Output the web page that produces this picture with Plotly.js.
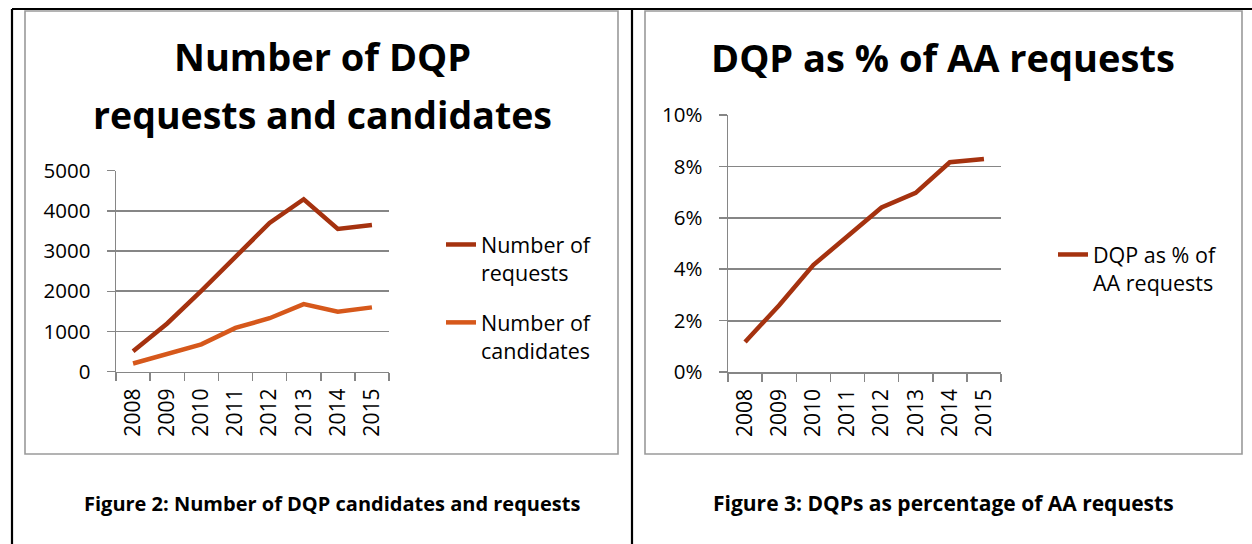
<!DOCTYPE html>
<html>
<head>
<meta charset="utf-8">
<script src="https://cdn.plot.ly/plotly-3.0.1.min.js"></script>
<style>
  html, body { margin: 0; padding: 0; background: #ffffff; }
  #chart { width: 1252px; height: 544px; }
</style>
</head>
<body>
<div id="chart"></div>
<script>
// ---- data ----
const years = ['2008', '2009', '2010', '2011', '2012', '2013', '2014', '2015'];
const requests = [510, 1200, 2010, 2860, 3700, 4290, 3550, 3650];
const candidates = [205, 440, 680, 1090, 1330, 1680, 1490, 1600];
const dqpShare = [0.0117, 0.026, 0.0416, 0.0526, 0.064, 0.0697, 0.0816, 0.0829];

const seriesNames = ['Number of<br>requests', 'Number of<br>candidates', 'DQP as % of<br>AA requests'];
const titleLeft = ['Number of DQP', 'requests and candidates'];
const titleRight = 'DQP as % of AA requests';
const captionLeft = 'Figure 2: Number of DQP candidates and requests';
const captionRight = 'Figure 3: DQPs as percentage of AA requests';

// ---- styling ----
const W = 1252, H = 544;
const FONT = 'Open Sans, Noto Sans, sans-serif';
const GRID = '#868686';
const C_REQ = '#A5320F';
const C_CAND = '#D6581B';
const px = x => x / W;
const py = y => 1 - y / H;

const traces = [
  { x: years, y: requests, name: seriesNames[0], type: 'scatter', mode: 'lines',
    line: { color: C_REQ, width: 4.5 }, xaxis: 'x', yaxis: 'y', legend: 'legend',
    legendgroup: 'req', hoverinfo: 'skip' },
  { x: years, y: candidates, name: seriesNames[1], type: 'scatter', mode: 'lines',
    line: { color: C_CAND, width: 4.5 }, xaxis: 'x', yaxis: 'y', legend: 'legend',
    legendgroup: 'cand', hoverinfo: 'skip' },
  { x: years, y: dqpShare, name: seriesNames[2], type: 'scatter', mode: 'lines',
    line: { color: C_REQ, width: 4.5 }, xaxis: 'x2', yaxis: 'y2', legend: 'legend2', hoverinfo: 'skip' }
];

const xCommon = {
  type: 'category', tickson: 'boundaries', ticks: 'outside', ticklen: 8,
  tickcolor: GRID, tickwidth: 1.5, showline: true, linecolor: GRID, linewidth: 1.5,
  tickangle: -90, tickfont: { family: FONT, size: 21, color: '#000' },
  showgrid: false, zeroline: false, fixedrange: true, ticklabelstandoff: 7,
  range: [-0.5, years.length - 0.5]
};
const yCommon = {
  ticks: 'outside', ticklen: 8, tickcolor: GRID, tickwidth: 1.5,
  showline: true, linecolor: GRID, linewidth: 1.5, showgrid: true, gridcolor: GRID, gridwidth: 1.8,
  zeroline: false, tickfont: { family: FONT, size: 20.5, color: '#000' }, fixedrange: true,
  ticklabelstandoff: 12
};

const blackLine = (x0, y0, x1, y1) => ({ type: 'line', xref: 'paper', yref: 'paper',
  x0: px(x0), y0: py(y0), x1: px(x1), y1: py(y1), line: { color: '#000', width: 2.2 } });
const frame = (x0, y0, x1, y1) => ({ type: 'rect', xref: 'paper', yref: 'paper',
  x0: px(x0), y0: py(y0), x1: px(x1), y1: py(y1), line: { color: '#9a9a9a', width: 1.6 }, layer: 'below' });

const ann = (text, x, y, size, bold) => ({ text: bold ? '<b>' + text + '</b>' : text,
  xref: 'paper', yref: 'paper', x: px(x), y: py(y), xanchor: 'center', yanchor: 'middle',
  showarrow: false, font: { family: FONT, size: size, color: '#000' } });

const layout = {
  width: W, height: H, autosize: false,
  margin: { l: 0, r: 0, t: 0, b: 0 },
  paper_bgcolor: '#ffffff', plot_bgcolor: 'rgba(0,0,0,0)',
  xaxis: Object.assign({}, xCommon, { domain: [px(116), px(389)], anchor: 'y' }),
  yaxis: Object.assign({}, yCommon, { domain: [py(371.7), py(170.7)], anchor: 'x', range: [0, 5000], dtick: 1000 }),
  xaxis2: Object.assign({}, xCommon, { domain: [px(728), px(1001)], anchor: 'y2' }),
  yaxis2: Object.assign({}, yCommon, { domain: [py(372), py(115)], anchor: 'x2', range: [0, 0.1], dtick: 0.02, tickformat: '.0%' }),
  legend: { x: px(441), y: py(224), xanchor: 'left', yanchor: 'top', valign: 'top',
    bgcolor: 'rgba(0,0,0,0)', font: { family: FONT, size: 21.5, color: '#000' }, tracegroupgap: 19 },
  legend2: { x: px(1053), y: py(234), xanchor: 'left', yanchor: 'top', valign: 'top',
    bgcolor: 'rgba(0,0,0,0)', font: { family: FONT, size: 21.5, color: '#000' } },
  showlegend: true,
  shapes: [
    frame(25, 11, 618, 454),
    frame(645, 11, 1242, 454),
    blackLine(12, 9, 1252, 9),
    blackLine(12, 9, 12, 544),
    blackLine(632, 9, 632, 544)
  ],
  annotations: [
    ann(titleLeft[0], 322, 56, 38, true),
    ann(titleLeft[1], 322, 114, 37.5, true),
    ann(titleRight, 943, 57, 38, true),
    ann(captionLeft, 332, 503, 20, true),
    ann(captionRight, 943, 503, 21, true)
  ]
};

Plotly.newPlot('chart', traces, layout, { staticPlot: true, displayModeBar: false });
</script>
</body>
</html>
